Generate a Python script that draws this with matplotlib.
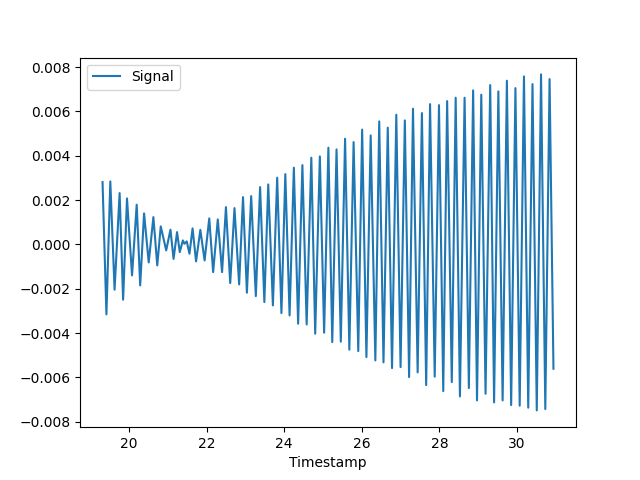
import matplotlib
matplotlib.use('Agg')
import matplotlib.pyplot as plt
import numpy as np

# turning points of the signal (time, value)
timestamp = [19.32, 19.42, 19.52, 19.63, 19.76, 19.85, 19.95, 20.08, 20.20, 20.29,
             20.39, 20.51, 20.63, 20.73, 20.82, 20.96, 21.07, 21.15, 21.24, 21.31,
             21.39, 21.43, 21.49, 21.56, 21.64, 21.73, 21.84, 21.95, 22.07, 22.17,
             22.29, 22.40, 22.50, 22.61, 22.72, 22.84, 22.94, 23.04, 23.15, 23.27,
             23.38, 23.49, 23.59, 23.71, 23.82, 23.93, 24.03, 24.14, 24.25, 24.36,
             24.47, 24.58, 24.70, 24.80, 24.92, 25.03, 25.14, 25.24, 25.35, 25.46,
             25.57, 25.68, 25.79, 25.91, 26.01, 26.12, 26.23, 26.35, 26.45, 26.56,
             26.67, 26.78, 26.89, 27.00, 27.11, 27.22, 27.32, 27.44, 27.55, 27.66,
             27.76, 27.88, 27.99, 28.10, 28.20, 28.32, 28.42, 28.53, 28.65, 28.76,
             28.87, 28.97, 29.08, 29.19, 29.31, 29.41, 29.52, 29.63, 29.74, 29.85,
             29.96, 30.07, 30.18, 30.29, 30.40, 30.51, 30.62, 30.73, 30.84, 30.94]

signal_milli = [2.811, -3.158, 2.843, -2.044, 2.315, -2.495, 2.076, -1.399, 1.791, -1.850,
                1.399, -0.812, 1.232, -0.948, 0.812, -0.271, 0.663, -0.654, 0.555, -0.347,
                0.180, 0.032, 0.135, -0.420, 0.722, -0.767, 0.654, -0.722, 1.173, -1.250,
                1.128, -1.250, 1.683, -1.746, 1.638, -1.805, 2.134, -2.179, 2.179, -2.333,
                2.585, -2.603, 2.707, -2.752, 3.010, -3.100, 3.172, -3.204, 3.461, -3.578,
                3.578, -3.610, 3.912, -4.029, 3.971, -3.984, 4.363, -4.408, 4.286, -4.390,
                4.769, -4.751, 4.616, -4.814, 5.180, -5.085, 4.918, -5.234, 5.550, -5.324,
                5.266, -5.581, 5.852, -5.536, 5.595, -5.988, 6.123, -5.775, 5.924, -6.349,
                6.330, -5.969, 6.285, -6.619, 6.466, -6.213, 6.619, -6.858, 6.619, -6.484,
                6.949, -7.039, 6.755, -6.737, 7.188, -7.129, 6.904, -7.039, 7.386, -7.251,
                7.052, -7.278, 7.580, -7.368, 7.233, -7.490, 7.671, -7.431, 7.459, -5.609]

signal = np.array(signal_milli) / 1000.0

fig, ax = plt.subplots(figsize=(6.4, 4.8), dpi=100)
ax.plot(timestamp, signal, label='Signal')
ax.set_xlabel('Timestamp')
ax.legend(loc='upper left')
fig.savefig('out.png')
